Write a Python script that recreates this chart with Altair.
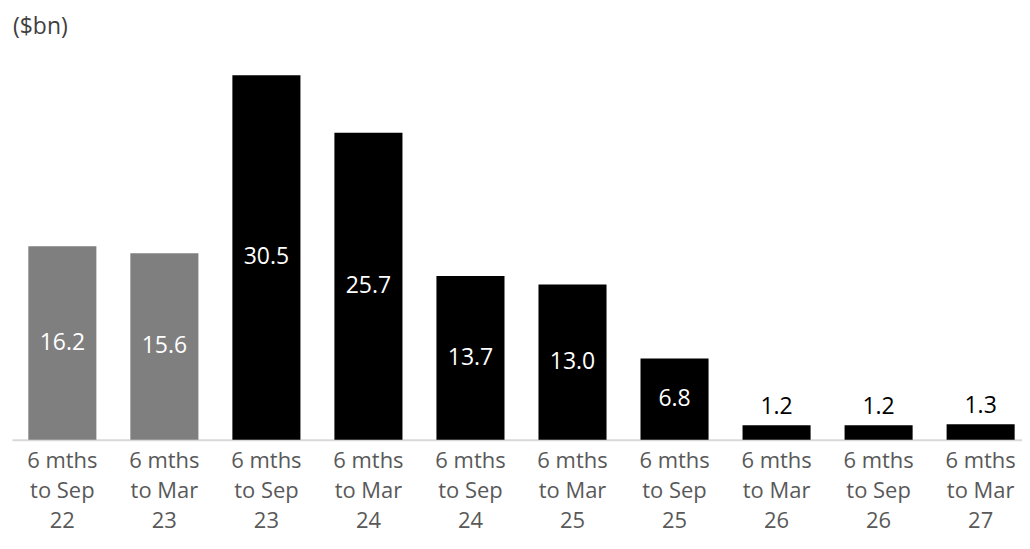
import altair as alt
import pandas as pd

periods = ["6 mths|to Sep|22", "6 mths|to Mar|23", "6 mths|to Sep|23", "6 mths|to Mar|24",
           "6 mths|to Sep|24", "6 mths|to Mar|25", "6 mths|to Sep|25", "6 mths|to Mar|26",
           "6 mths|to Sep|26", "6 mths|to Mar|27"]
values = [16.2, 15.6, 30.5, 25.7, 13.7, 13.0, 6.8, 1.2, 1.2, 1.3]
kind = ["actual", "actual", "forecast", "forecast", "forecast", "forecast",
        "forecast", "forecast", "forecast", "forecast"]

df = pd.DataFrame({"period": periods, "value": values, "kind": kind})
df["label"] = [f"{v:.1f}" for v in values]

FONT = "Open Sans"

x = alt.X("period:N", sort=periods,
          scale=alt.Scale(paddingInner=0.333, paddingOuter=0.16, range=[0, 1021]),
          axis=alt.Axis(title=None, labelAngle=0, ticks=False,
                        labelExpr="split(datum.label, '|')",
                        labelFont=FONT, labelFontSize=22, labelColor="#595959",
                        labelLineHeight=30, labelPadding=11,
                        domainColor="#d9d9d9", domainWidth=2))
y = alt.Y("value:Q", scale=alt.Scale(domain=[0, 32], nice=False), axis=None)

base = alt.Chart(df)

bars = base.mark_bar().encode(
    x=x, y=y,
    color=alt.Color("kind:N", scale=alt.Scale(domain=["actual", "forecast"],
                                               range=["#7f7f7f", "#000000"]), legend=None)
)

inside = base.transform_filter("datum.value > 5").transform_calculate(
    mid="datum.value / 2"
).mark_text(font=FONT, fontSize=23, color="white", baseline="middle").encode(
    x=alt.X("period:N", sort=periods), y=alt.Y("mid:Q"), text="label:N"
)

above = base.transform_filter("datum.value <= 5").mark_text(
    font=FONT, fontSize=23, color="black", baseline="bottom", dy=-6
).encode(x=alt.X("period:N", sort=periods), y=alt.Y("value:Q"), text="label:N")

chart = alt.layer(bars, inside, above).properties(
    width=1012, height=383,
    autosize=alt.AutoSizeParams(type="none"),
    padding={"left": 4, "top": 49, "right": 0, "bottom": 95},
    title=alt.TitleParams("($bn)", anchor="start", font=FONT, fontSize=23,
                          fontWeight="normal", color="#404040", offset=18, dx=1)
).configure_view(stroke=None)

chart.save("out.html", embed_options={"renderer": "svg", "actions": False})
